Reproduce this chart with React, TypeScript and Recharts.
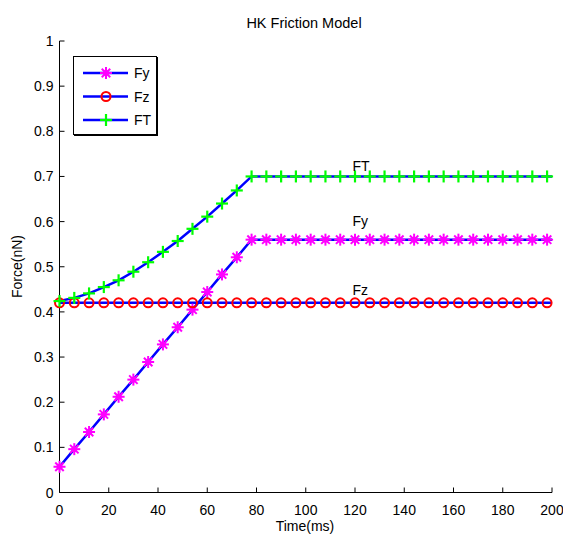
import React from 'react';
import { LineChart, Line, XAxis, YAxis, ReferenceDot } from 'recharts';

const timeMs = [0, 6, 12, 18, 24, 30, 36, 42, 48, 54, 60, 66, 72, 78, 84, 90, 96, 102, 108, 114, 120, 126, 132, 138, 144, 150, 156, 162, 168, 174, 180, 186, 192, 198, 200];
const fyValues = [0.057, 0.096, 0.134, 0.173, 0.212, 0.25, 0.289, 0.328, 0.366, 0.405, 0.444, 0.483, 0.521, 0.56, 0.56, 0.56, 0.56, 0.56, 0.56, 0.56, 0.56, 0.56, 0.56, 0.56, 0.56, 0.56, 0.56, 0.56, 0.56, 0.56, 0.56, 0.56, 0.56, 0.56, 0.56];
const fzValues = [0.42, 0.42, 0.42, 0.42, 0.42, 0.42, 0.42, 0.42, 0.42, 0.42, 0.42, 0.42, 0.42, 0.42, 0.42, 0.42, 0.42, 0.42, 0.42, 0.42, 0.42, 0.42, 0.42, 0.42, 0.42, 0.42, 0.42, 0.42, 0.42, 0.42, 0.42, 0.42, 0.42, 0.42, 0.42];
const ftValues = [0.424, 0.431, 0.441, 0.455, 0.47, 0.489, 0.51, 0.533, 0.557, 0.584, 0.611, 0.64, 0.669, 0.7, 0.7, 0.7, 0.7, 0.7, 0.7, 0.7, 0.7, 0.7, 0.7, 0.7, 0.7, 0.7, 0.7, 0.7, 0.7, 0.7, 0.7, 0.7, 0.7, 0.7, 0.7];
const markerLastTime = 198;

const xTicks = [0, 20, 40, 60, 80, 100, 120, 140, 160, 180, 200];
const yTicks = [0, 0.1, 0.2, 0.3, 0.4, 0.5, 0.6, 0.7, 0.8, 0.9, 1];
const yTickLabels = ['0', '0.1', '0.2', '0.3', '0.4', '0.5', '0.6', '0.7', '0.8', '0.9', '1'];

const seriesLabels = [
  { name: 'FT', x: 119, y: 0.712 },
  { name: 'Fy', x: 119, y: 0.59 },
  { name: 'Fz', x: 119, y: 0.438 },
];

const data = timeMs.map((t, i) => ({ t, Fy: fyValues[i], Fz: fzValues[i], FT: ftValues[i] }));

const FONT = '"Liberation Sans", Arial, sans-serif';
const BLUE = '#0000ff';
const MAGENTA = '#ff00ff';
const RED = '#ff0000';
const GREEN = '#00ff00';

const Star = ({ cx, cy }: { cx: number; cy: number }) => {
  const r = 6;
  const d = r * 0.707;
  return (
    <g stroke={MAGENTA} strokeWidth={2}>
      <line x1={cx - r} y1={cy} x2={cx + r} y2={cy} />
      <line x1={cx} y1={cy - r} x2={cx} y2={cy + r} />
      <line x1={cx - d} y1={cy - d} x2={cx + d} y2={cy + d} />
      <line x1={cx - d} y1={cy + d} x2={cx + d} y2={cy - d} />
      <circle cx={cx} cy={cy} r={3} fill={MAGENTA} stroke="none" />
    </g>
  );
};
const Circ = ({ cx, cy }: { cx: number; cy: number }) => (
  <circle cx={cx} cy={cy} r={4.5} fill="none" stroke={RED} strokeWidth={2} />
);
const Plus = ({ cx, cy }: { cx: number; cy: number }) => {
  const r = 6;
  return (
    <g stroke={GREEN} strokeWidth={2.2}>
      <line x1={cx - r} y1={cy} x2={cx + r} y2={cy} />
      <line x1={cx} y1={cy - r} x2={cx} y2={cy + r} />
    </g>
  );
};

const makeDot = (Comp: any) => (props: any) => {
  const { cx, cy, payload, index } = props;
  if (payload.t > markerLastTime || cx == null || cy == null) return <g key={`d${index}`} />;
  return <g key={`d${index}`}><Comp cx={cx} cy={cy} /></g>;
};

const XTick = (props: any) => {
  const { x, y, payload } = props;
  return (
    <g>
      <line x1={x} y1={y} x2={x} y2={y - 5} stroke="#000" strokeWidth={1} />
      <text x={x} y={y + 22} textAnchor="middle" fontSize={14} fontFamily={FONT} fill="#000">
        {payload.value}
      </text>
    </g>
  );
};

const YTick = (props: any) => {
  const { x, y, payload, index } = props;
  const ax = x + 6;
  return (
    <g>
      <line x1={ax} y1={y} x2={ax + 5} y2={y} stroke="#000" strokeWidth={1} />
      <text x={x} y={y + 5} textAnchor="end" fontSize={14} fontFamily={FONT} fill="#000">
        {yTickLabels[index] ?? payload.value}
      </text>
    </g>
  );
};

const legendItems = [
  { name: 'Fy', Comp: Star },
  { name: 'Fz', Comp: Circ },
  { name: 'FT', Comp: Plus },
];

const LegendBox = () => (
  <div style={{ position: 'absolute', left: 73, top: 56, width: 84, height: 79, border: '1px solid #000', boxShadow: '1px 1px 0 #000', background: '#fff', boxSizing: 'border-box' }}>
    <svg width={82} height={77} style={{ display: 'block' }}>
      {legendItems.map((it, i) => {
        const cy = 16 + i * 23.5;
        return (
          <g key={it.name}>
            <line x1={9} y1={cy} x2={54} y2={cy} stroke={BLUE} strokeWidth={2.5} />
            <it.Comp cx={32} cy={cy} />
            <text x={60} y={cy + 5} fontSize={14} fontFamily={FONT} fill="#000">{it.name}</text>
          </g>
        );
      })}
    </svg>
  </div>
);

const LabelText = (name: string) => (props: any) => (
  <text x={props.cx} y={props.cy} fontSize={14} fontFamily={FONT} fill="#000">{name}</text>
);

export default function App() {
  return (
    <div style={{ position: 'absolute', left: 0, top: 0, width: 563, height: 539, background: '#fff' }}>
      <LineChart width={563} height={539} data={data} margin={{ top: 41, right: 11, bottom: 16.5, left: 9.5 }}>
        <text x={304} y={28} textAnchor="middle" fontSize={14.5} fontFamily={FONT} fill="#000">HK Friction Model</text>
        <text x={22} y={266.5} textAnchor="middle" fontSize={14} fontFamily={FONT} fill="#000" transform="rotate(-90 22 266.5)">Force(nN)</text>
        <text x={305} y={531} textAnchor="middle" fontSize={14} fontFamily={FONT} fill="#000">Time(ms)</text>
        <XAxis
          dataKey="t"
          type="number"
          domain={[0, 200]}
          ticks={xTicks}
          height={30}
          tickSize={0}
          tickMargin={0}
          tick={<XTick />}
          axisLine={{ stroke: '#000', strokeWidth: 1 }}
          interval={0}
        />
        <YAxis
          type="number"
          domain={[0, 1]}
          ticks={yTicks}
          width={50}
          tickSize={0}
          tickMargin={6}
          tick={<YTick />}
          axisLine={{ stroke: '#000', strokeWidth: 1 }}
          interval={0}
        />
        <Line dataKey="Fy" stroke={BLUE} strokeWidth={2.5} dot={makeDot(Star)} activeDot={false} isAnimationActive={false} />
        <Line dataKey="Fz" stroke={BLUE} strokeWidth={2.5} dot={makeDot(Circ)} activeDot={false} isAnimationActive={false} />
        <Line dataKey="FT" stroke={BLUE} strokeWidth={2.5} dot={makeDot(Plus)} activeDot={false} isAnimationActive={false} />
        {seriesLabels.map((l) => (
          <ReferenceDot key={l.name} x={l.x} y={l.y} r={0} shape={LabelText(l.name)} />
        ))}
      </LineChart>
      <LegendBox />
    </div>
  );
}
